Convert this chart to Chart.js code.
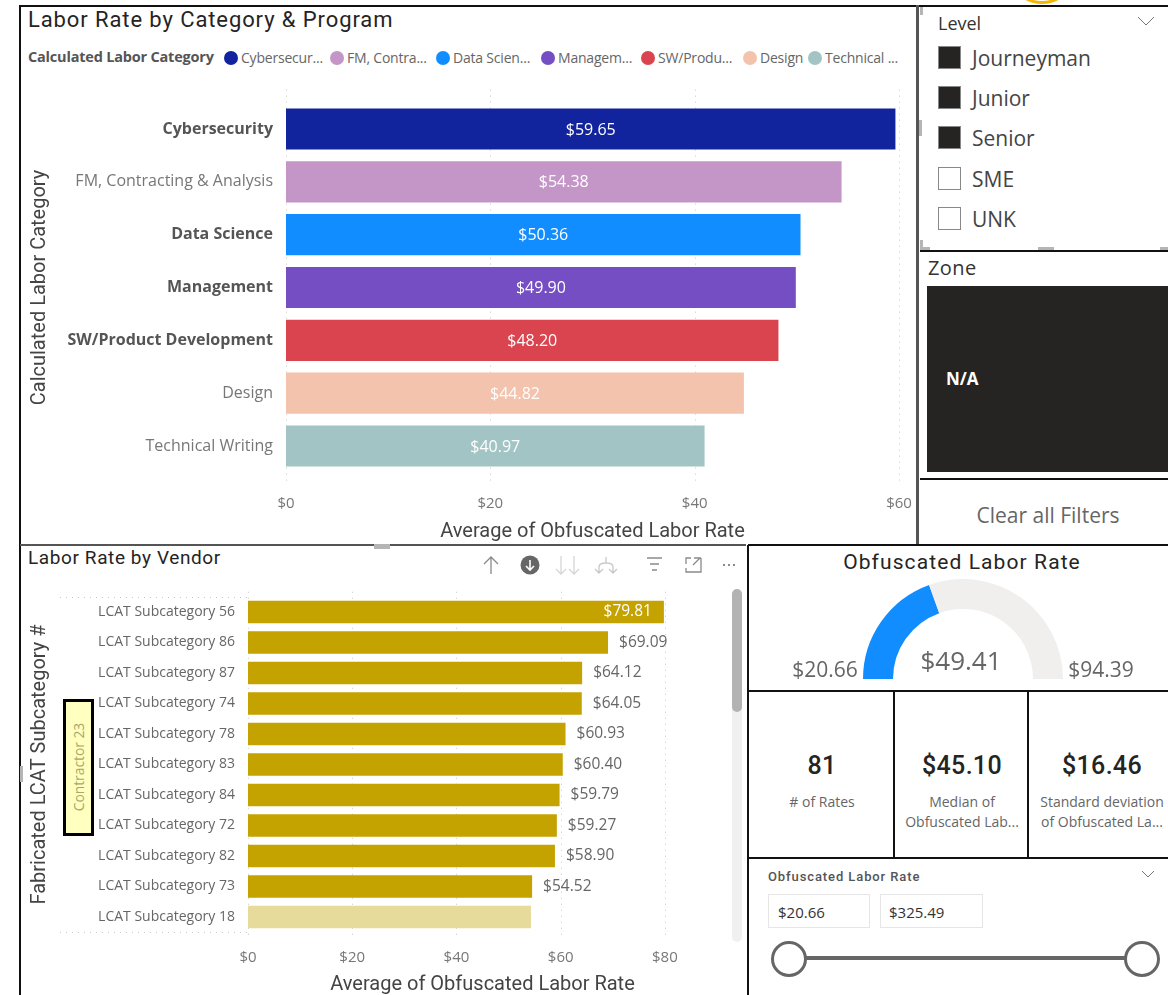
<!DOCTYPE html>
<html>
<head>
<meta charset="utf-8">
<script src="https://cdn.jsdelivr.net/npm/chart.js@4"></script>
<style>
html, body { margin: 0; padding: 0; background: #fff; overflow: hidden; }
body { width: 1168px; height: 995px; position: relative; font-family: "Open Sans", sans-serif; color: #333; }
.abs { position: absolute; white-space: nowrap; }
.din { font-family: Roboto, sans-serif; }
.line { position: absolute; background: #111; }
.handle { position: absolute; background: #b5b5b5; }
.center { transform: translateX(-50%); text-align: center; }
canvas { position: absolute; }
.dot { position: absolute; width: 14px; height: 14px; border-radius: 50%; }
.box { position: absolute; width: 21px; height: 21px; border: 1px solid #888; }
.input { position: absolute; height: 34px; width: 102px; border: 1px solid #e6e6e6; box-sizing: border-box; }
</style>
</head>
<body>

<div class="abs" style="left:1017px;top:-28px;width:44px;height:26px;border:3px solid #F2B705;border-radius:50%;"></div>

<!-- panel lines -->
<div class="line" style="left:20px;top:5px;width:1148px;height:2px;"></div>
<div class="line" style="left:19px;top:5px;width:2px;height:990px;"></div>
<div class="line" style="left:916px;top:5px;width:3px;height:540px;background:#555;"></div>
<div class="line" style="left:920px;top:250px;width:248px;height:2px;"></div>
<div class="line" style="left:920px;top:478px;width:248px;height:2px;"></div>
<div class="line" style="left:20px;top:544px;width:726px;height:2px;background:#555;"></div>
<div class="line" style="left:748px;top:544px;width:420px;height:2px;"></div>
<div class="line" style="left:747px;top:545px;width:2px;height:450px;"></div>
<div class="line" style="left:749px;top:690px;width:419px;height:2px;"></div>
<div class="line" style="left:893px;top:690px;width:2px;height:168px;"></div>
<div class="line" style="left:1027px;top:690px;width:2px;height:168px;"></div>
<div class="line" style="left:749px;top:857px;width:419px;height:2px;"></div>
<div class="handle" style="left:374px;top:544px;width:16px;height:5px;"></div>
<div class="handle" style="left:1038px;top:247px;width:16px;height:3px;"></div>
<div class="handle" style="left:919px;top:120px;width:3px;height:16px;"></div>
<div class="handle" style="left:20px;top:766px;width:3px;height:16px;"></div>
<div class="handle" style="left:920px;top:7px;width:3px;height:8px;"></div>
<div class="handle" style="left:920px;top:240px;width:3px;height:8px;"></div>
<div class="handle" style="left:920px;top:247px;width:10px;height:3px;"></div>
<div class="handle" style="left:1160px;top:247px;width:8px;height:3px;"></div>

<!-- top chart -->
<div class="abs din" style="left:28px;top:7px;font-size:22px;letter-spacing:.9px;color:#252423;">Labor Rate by Category &amp; Program</div>
<div class="abs" id="legendTitle" style="left:28px;top:47px;font-size:14.5px;font-weight:700;color:#555;letter-spacing:-.2px;">Calculated Labor Category</div>
<div id="legend"></div>
<canvas id="categoryChart" width="895" height="474" style="left:21px;top:70px;"></canvas>

<!-- vendor chart -->
<div class="abs din" style="left:28px;top:546px;font-size:19px;letter-spacing:.6px;color:#252423;">Labor Rate by Vendor</div>
<svg class="abs" style="left:480px;top:552px;" width="262" height="26" fill="none" stroke="#8a8a8a" stroke-width="1.3">
  <path d="M11 22V5M4 12l7-7 7 7"/>
  <circle cx="50" cy="13" r="9.5" fill="#666" stroke="none"/>
  <path d="M50 8v10M46 14l4 4 4-4" stroke="#fff" stroke-width="1.6"/>
  <path d="M81 4v18M76 17l5 5 5-5M94 4v18M89 17l5 5 5-5" stroke="#d6d6d6"/>
  <path d="M126 5v6M119 21v-6q0-4 7-4t7 4v6M115 17l4 4 4-4M129 17l4 4 4-4" stroke="#c8c8c8"/>
  <path d="M167 6h15M170 12h9M172 18h5"/>
  <path d="M206 12V6h5M221 6h-7M221 6v14h-15v-4M213 13l7-7"/>
  <path d="M243 13h2M248 13h2M253 13h2" stroke-width="2"/>
</svg>
<canvas id="vendorChart" width="725" height="417" style="left:21px;top:580px;"></canvas>
<div class="abs" style="left:732px;top:589px;width:10px;height:353px;background:#f0f0f0;border-radius:5px;"></div>
<div class="abs" style="left:732px;top:589px;width:10px;height:123px;background:#b3b3b3;border-radius:5px;"></div>
<div class="abs" style="left:63px;top:699px;width:25px;height:131px;border:3px solid #000;background:#FFFFBF;"></div>
<div class="abs" style="left:78px;top:767px;font-size:13.8px;color:#a9a866;transform:translate(-50%,-50%) rotate(-90deg);">Contractor 23</div>

<!-- level slicer -->
<div class="abs" style="left:938px;top:11px;font-size:18px;color:#333;">Level</div>
<svg class="abs" style="left:1137px;top:15px;" width="18" height="12" fill="none" stroke="#777"><path d="M1 2l8 8 8-8"/></svg>
<div id="levels"></div>

<!-- zone -->
<div class="abs" style="left:928px;top:254px;font-size:20px;color:#333;letter-spacing:.4px;">Zone</div>
<div class="abs" style="left:927px;top:286px;width:241px;height:186px;background:#252423;"></div>
<div class="abs" style="left:946px;top:367px;font-size:17px;font-weight:700;color:#fff;">N/A</div>
<div class="abs center" style="left:1048px;top:501px;font-size:21px;color:#666;">Clear all Filters</div>

<!-- gauge -->
<div class="abs din center" style="left:962px;top:550px;font-size:21px;letter-spacing:1.1px;color:#252423;">Obfuscated Labor Rate</div>
<canvas id="gaugeChart" width="200" height="100" style="left:863px;top:579px;"></canvas>
<div class="abs center" id="gaugeValue" style="left:961px;top:642px;font-size:26px;color:#666;"></div>
<div class="abs center" id="gaugeMin" style="left:825px;top:655px;font-size:21px;color:#666;"></div>
<div class="abs center" id="gaugeMax" style="left:1101px;top:655px;font-size:21px;color:#666;"></div>

<!-- kpi cards -->
<div id="cards"></div>

<!-- range slicer -->
<div class="abs din" style="left:768px;top:869px;font-size:13px;font-weight:500;letter-spacing:.9px;color:#555;">Obfuscated Labor Rate</div>
<svg class="abs" style="left:1141px;top:870px;" width="14" height="9" fill="none" stroke="#777"><path d="M1 1l6 6 6-6"/></svg>
<div class="input" style="left:768px;top:894px;"></div>
<div class="input" style="left:880px;top:894px;width:103px;"></div>
<div class="abs" id="rangeMin" style="left:778px;top:902px;font-size:15px;color:#333;"></div>
<div class="abs" id="rangeMax" style="left:889px;top:902px;font-size:15px;color:#333;"></div>
<div class="abs" style="left:800px;top:956px;width:330px;height:4px;background:#666;"></div>
<div class="abs" style="left:771px;top:941px;width:30px;height:30px;border:3px solid #666;border-radius:50%;background:#fff;"></div>
<div class="abs" style="left:1124px;top:941px;width:30px;height:30px;border:3px solid #666;border-radius:50%;background:#fff;"></div>

<script>
const categories = ["Cybersecurity", "FM, Contracting & Analysis", "Data Science", "Management", "SW/Product Development", "Design", "Technical Writing"];
const categoryRates = [59.65, 54.38, 50.36, 49.90, 48.20, 44.82, 40.97];
const categoryColors = ["#12239E", "#C495C7", "#118DFF", "#744EC2", "#D9444F", "#F4C3AD", "#A3C4C4"];
const boldCategories = ["Cybersecurity", "Data Science", "Management", "SW/Product Development"];
const legendLabels = ["Cybersecur...", "FM, Contra...", "Data Scien...", "Managem...", "SW/Produ...", "Design", "Technical ..."];
const legendX = [224, 330, 436, 541, 641, 743, 808];

const subcategories = ["LCAT Subcategory 56", "LCAT Subcategory 86", "LCAT Subcategory 87", "LCAT Subcategory 74", "LCAT Subcategory 78", "LCAT Subcategory 83", "LCAT Subcategory 84", "LCAT Subcategory 72", "LCAT Subcategory 82", "LCAT Subcategory 73", "LCAT Subcategory 18"];
const vendorRates = [79.81, 69.09, 64.12, 64.05, 60.93, 60.40, 59.79, 59.27, 58.90, 54.52, 54.3];
const vendorColors = ["#C4A200", "#C4A200", "#C4A200", "#C4A200", "#C4A200", "#C4A200", "#C4A200", "#C4A200", "#C4A200", "#C4A200", "#E7DB9B"];

const gaugeMin = 20.66;
const gaugeValue = 49.41;
const gaugeMax = 94.39;
const rangeMax = 325.49;

const levels = ["Journeyman", "Junior", "Senior", "SME", "UNK"];
const levelChecked = [true, true, true, false, false];
const levelY = [46, 86, 126, 167, 207];

const cardValues = ["81", "$45.10", "$16.46"];
const cardCaptions = [["# of Rates"], ["Median of", "Obfuscated Lab..."], ["Standard deviation", "of Obfuscated La..."]];
const cardX = [822, 962, 1102];

const money = v => "$" + v.toFixed(2);

// html bits around the charts
document.getElementById("legend").innerHTML = legendLabels.map((t, i) =>
  `<span class="dot" style="left:${legendX[i]}px;top:51px;background:${categoryColors[i]}"></span>` +
  `<span class="abs" style="left:${legendX[i] + 17}px;top:48px;font-size:14px;color:#666;letter-spacing:-.2px">${t}</span>`
).join("");

document.getElementById("levels").innerHTML = levels.map((t, i) =>
  `<span class="box" style="left:938px;top:${levelY[i]}px;background:${levelChecked[i] ? "#252423" : "#fff"}"></span>` +
  `<span class="abs" style="left:972px;top:${levelY[i] - 2}px;font-size:21px;color:#444">${t}</span>`
).join("");

document.getElementById("cards").innerHTML = cardValues.map((v, i) =>
  `<div class="abs din center" style="left:${cardX[i]}px;top:751px;font-size:25px;font-weight:500;letter-spacing:.3px;color:#252423">${v}</div>` +
  cardCaptions[i].map((c, j) =>
    `<div class="abs center" style="left:${cardX[i]}px;top:${792 + j * 20}px;font-size:14px;color:#666">${c}</div>`).join("")
).join("");

document.getElementById("gaugeValue").textContent = money(gaugeValue);
document.getElementById("gaugeMin").textContent = money(gaugeMin);
document.getElementById("gaugeMax").textContent = money(gaugeMax);
document.getElementById("rangeMin").textContent = money(gaugeMin);
document.getElementById("rangeMax").textContent = money(rangeMax);

// dotted grid that runs a bit past the plot, like power bi
const dottedGrid = {
  id: "dottedGrid",
  beforeDatasetsDraw(chart, args, opts) {
    const { ctx, chartArea, scales } = chart;
    ctx.save();
    ctx.strokeStyle = "#c8c8c8";
    ctx.setLineDash([1, 5]);
    scales.x.ticks.forEach(t => {
      const x = Math.round(scales.x.getPixelForValue(t.value)) + 0.5;
      ctx.beginPath();
      ctx.moveTo(x, chartArea.top - opts.over);
      ctx.lineTo(x, chartArea.bottom + opts.over);
      ctx.stroke();
    });
    if (opts.rowsFrom !== undefined) {
      [chartArea.top, chartArea.bottom].forEach(y => {
        ctx.beginPath();
        ctx.moveTo(opts.rowsFrom, Math.round(y) + 0.5);
        ctx.lineTo(chartArea.left, Math.round(y) + 0.5);
        ctx.stroke();
      });
    }
    ctx.restore();
  }
};

const barLabels = {
  id: "barLabels",
  afterDatasetsDraw(chart, args, opts) {
    const { ctx } = chart;
    const values = chart.data.datasets[0].data;
    ctx.save();
    ctx.font = opts.font;
    ctx.textBaseline = "middle";
    chart.getDatasetMeta(0).data.forEach((bar, i) => {
      if (opts.mode === "center") {
        ctx.fillStyle = "#fff";
        ctx.textAlign = "center";
        ctx.fillText(money(values[i]), (bar.x + bar.base) / 2, bar.y + 1);
      } else if (i === 0) {
        ctx.fillStyle = "#fff";
        ctx.textAlign = "right";
        ctx.fillText(money(values[i]), bar.x - 12, bar.y);
      } else if (i < values.length - 1) {
        ctx.fillStyle = "#666";
        ctx.textAlign = "left";
        ctx.fillText(money(values[i]), bar.x + 11, bar.y);
      }
    });
    ctx.restore();
  }
};

function barChart(id, cfg) {
  return new Chart(document.getElementById(id), {
    type: "bar",
    data: {
      labels: cfg.labels,
      datasets: [{ data: cfg.values, backgroundColor: cfg.colors, categoryPercentage: 1, barPercentage: cfg.barPercentage, borderWidth: 0 }],
    },
    plugins: [dottedGrid, barLabels],
    options: {
      indexAxis: "y",
      responsive: false,
      animation: false,
      layout: { padding: cfg.padding },
      plugins: {
        legend: { display: false },
        tooltip: { enabled: false },
        dottedGrid: cfg.grid,
        barLabels: cfg.barLabels,
      },
      scales: {
        x: {
          min: 0,
          max: cfg.max,
          grid: { display: false },
          border: { display: false },
          // tick padding leaks into the plot margins otherwise
          afterFit: s => { s.height = cfg.xHeight; s.paddingLeft = 0; s.paddingRight = 0; },
          ticks: {
            stepSize: 20,
            includeBounds: false,
            maxRotation: 0,
            padding: cfg.xTickPad,
            color: "#777",
            font: { family: "Open Sans", size: 15 },
            callback: v => "$" + v,
          },
          title: { display: true, text: "Average of Obfuscated Labor Rate", color: "#444", padding: 0, font: { family: "Roboto", size: 20 } },
        },
        y: {
          grid: { display: false, drawTicks: false },
          border: { display: false },
          afterFit: s => { s.width = cfg.yWidth; s.paddingTop = 0; s.paddingBottom = 0; },
          ticks: {
            padding: 13,
            autoSkip: false,
            color: cfg.tickColor,
            font: cfg.tickFont,
          },
          title: { display: true, text: cfg.yTitle, color: "#444", padding: 0, font: { family: "Roboto", size: 20 } },
        },
      },
    },
  });
}

barChart("categoryChart", {
  labels: categories,
  values: categoryRates,
  colors: categoryColors,
  barPercentage: 0.78,
  max: 60,
  padding: { top: 32.6, right: 17, left: 7, bottom: 0 },
  xHeight: 71.6,
  xTickPad: 14,
  yWidth: 258,
  yTitle: "Calculated Labor Category",
  grid: { over: 13 },
  barLabels: { mode: "center", font: "16px 'Open Sans'" },
  tickColor: ctx => boldCategories.includes(categories[ctx.index]) ? "#555" : "#777",
  tickFont: ctx => ({ family: "Open Sans", size: 16, weight: boldCategories.includes(categories[ctx.index]) ? 700 : 400 }),
});

barChart("vendorChart", {
  labels: subcategories,
  values: vendorRates,
  colors: vendorColors,
  barPercentage: 0.745,
  max: 90,
  padding: { top: 16.75, right: 29, left: 7, bottom: 0 },
  xHeight: 64.75,
  xTickPad: 8,
  yWidth: 220,
  yTitle: "Fabricated LCAT Subcategory #",
  grid: { over: 5, rowsFrom: 39 },
  barLabels: { mode: "outside", font: "15.5px 'Open Sans'" },
  tickColor: "#666",
  tickFont: { family: "Open Sans", size: 14 },
});

new Chart(document.getElementById("gaugeChart"), {
  type: "doughnut",
  data: {
    datasets: [{
      data: [gaugeValue - gaugeMin, gaugeMax - gaugeValue],
      backgroundColor: ["#118DFF", "#F1EFED"],
      borderWidth: 0,
    }],
  },
  options: {
    responsive: false,
    animation: false,
    rotation: -90,
    circumference: 180,
    cutout: "70%",
    plugins: { legend: { display: false }, tooltip: { enabled: false } },
  },
});
</script>
</body>
</html>
